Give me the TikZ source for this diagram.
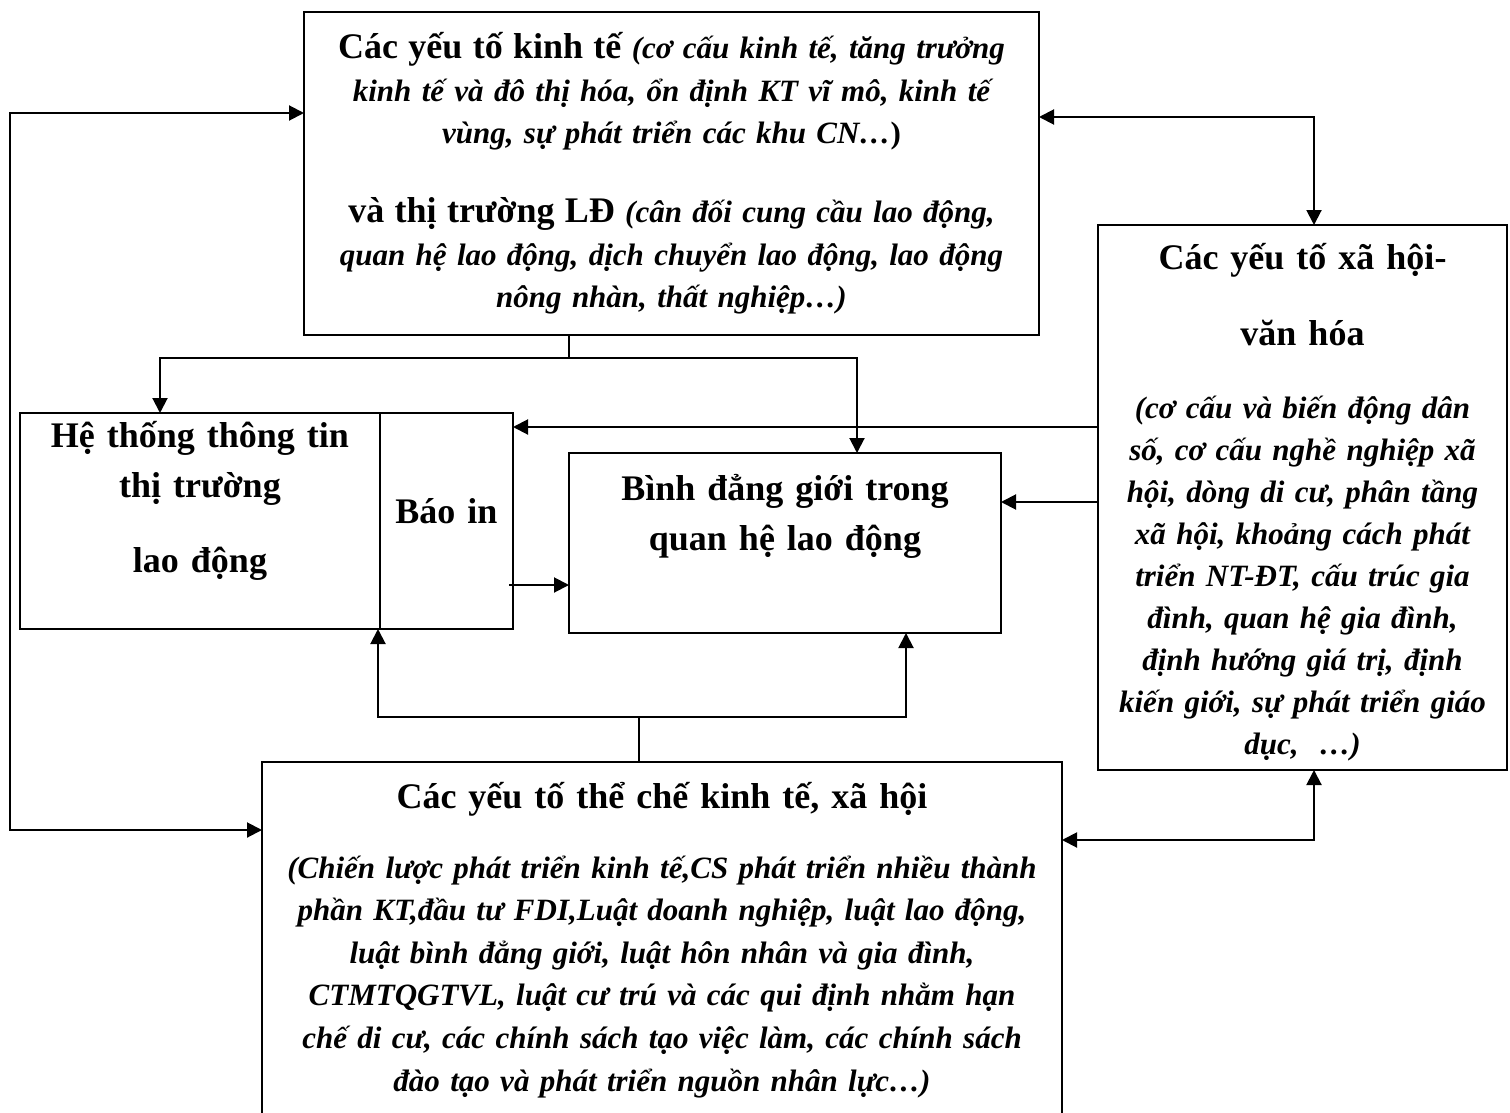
\documentclass[tikz,border=0pt]{standalone}
\usepackage{fontspec}
\setmainfont{Liberation Serif}
\usetikzlibrary{arrows.meta}
\begin{document}
\begin{tikzpicture}[x=1pt,y=-1pt,
  box/.style={draw, line width=2pt, inner sep=0pt, outer sep=0pt},
  conn/.style={line width=2pt},
  arr/.style={conn, -{Triangle[length=15pt,width=15pt]}},
  darr/.style={conn, {Triangle[length=15pt,width=15pt]}-{Triangle[length=15pt,width=15pt]}},
  bt/.style={font=\fontsize{36}{50}\selectfont\bfseries, align=center, anchor=base, inner sep=0pt},
  it/.style={font=\fontsize{31}{42}\selectfont\bfseries\itshape, align=center, anchor=base, inner sep=0pt},
]
\useasboundingbox (0,0) rectangle (1510,1113);
\clip (0,0) rectangle (1510,1113);
\fill[white] (0,0) rectangle (1510,1113);

% boxes
\node[box, minimum width=735, minimum height=323] (eco) at (671.5,173.5) {};
\node[box, minimum width=409, minimum height=545] (soc) at (1302.5,497.5) {};
\node[box, minimum width=360, minimum height=216] (info) at (200,521) {};
\node[box, minimum width=133, minimum height=216] (bao) at (446.5,521) {};
\node[box, minimum width=432, minimum height=180] (gen) at (785,543) {};
\node[box, minimum width=800, minimum height=370] (inst) at (662,947) {};

% texts
\node[it, text width=735, font=\fontsize{31}{42.3}\selectfont\bfseries\itshape] (ecoT) at (671.5,59)
 {{\upshape\fontsize{36}{42.3}\selectfont Các yếu tố kinh tế} (cơ cấu kinh tế, tăng trưởng\\
  kinh tế và đô thị hóa, ổn định KT vĩ mô, kinh tế\\
  vùng, sự phát triển các khu CN…{\upshape)}\\[37pt]
  {\upshape\fontsize{36}{42.3}\selectfont và thị trường LĐ} (cân đối cung cầu lao động,\\
  quan hệ lao động, dịch chuyển lao động, lao động\\
  nông nhàn, thất nghiệp…)};

\node[bt, text width=409] (socH) at (1302.5,269) {Các yếu tố xã hội-\\[26pt]văn hóa};
\node[it, text width=409] (socB) at (1302.5,418)
 {(cơ cấu và biến động dân\\
  số, cơ cấu nghề nghiệp xã\\
  hội, dòng di cư, phân tầng\\
  xã hội, khoảng cách phát\\
  triển NT-ĐT, cấu trúc gia\\
  đình, quan hệ gia đình,\\
  định hướng giá trị, định\\
  kiến giới, sự phát triển giáo\\
  dục,~~…)};

\node[bt, text width=360] (infoT) at (200,447) {Hệ thống thông tin\\thị trường\\[25pt]lao động};
\node[bt, text width=133] (baoT) at (446.5,523) {Báo in};
\node[bt, text width=432] (genT) at (785,500) {Bình đẳng giới trong\\quan hệ lao động};

\node[bt, text width=800] (instH) at (662,808) {Các yếu tố thể chế kinh tế, xã hội};
\node[it, text width=800, font=\fontsize{31}{42.6}\selectfont\bfseries\itshape] (instB) at (662,878)
 {(Chiến lược phát triển kinh tế,CS phát triển nhiều thành\\
  phần KT,đầu tư FDI,Luật doanh nghiệp, luật lao động,\\
  luật bình đẳng giới, luật hôn nhân và gia đình,\\
  CTMTQGTVL, luật cư trú và các qui định nhằm hạn\\
  chế di cư, các chính sách tạo việc làm, các chính sách\\
  đào tạo và phát triển nguồn nhân lực…)};

% connector bend points
\coordinate (lt) at (10,113);
\coordinate (lb) at (10,830);
\coordinate (rt) at (1314,117);
\coordinate (rb) at (1314,840);
\coordinate (ts) at (569,358);
\coordinate (tl) at (160,358);
\coordinate (tr) at (857,358);
\coordinate (bs) at (639,717);
\coordinate (bl) at (378,717);
\coordinate (br) at (906,717);
\coordinate (y1) at (0,427);
\coordinate (y2) at (0,502);
\coordinate (y3) at (0,585);

% connectors
\draw[darr] (eco.west |- lt) -- (lt) -- (lb) -- (inst.west |- lb);
\draw[darr] (eco.east |- rt) -- (rt) -- (soc.north -| rt);
\draw[darr] (inst.east |- rb) -- (rb) -- (soc.south -| rb);
\draw[conn] (eco.south -| ts) -- (ts);
\draw[arr] (ts) -- (tl) -- (info.north -| tl);
\draw[arr] (ts) -- (tr) -- (gen.north -| tr);
\draw[arr] (soc.west |- y1) -- (bao.east |- y1);
\draw[arr] (soc.west |- y2) -- (gen.east |- y2);
\draw[arr] ([xshift=-4pt]bao.east |- y3) -- (gen.west |- y3);
\draw[conn] (inst.north -| bs) -- (bs);
\draw[arr] (bs) -- (bl) -- (info.south -| bl);
\draw[arr] (bs) -- (br) -- (gen.south -| br);
\end{tikzpicture}
\end{document}
